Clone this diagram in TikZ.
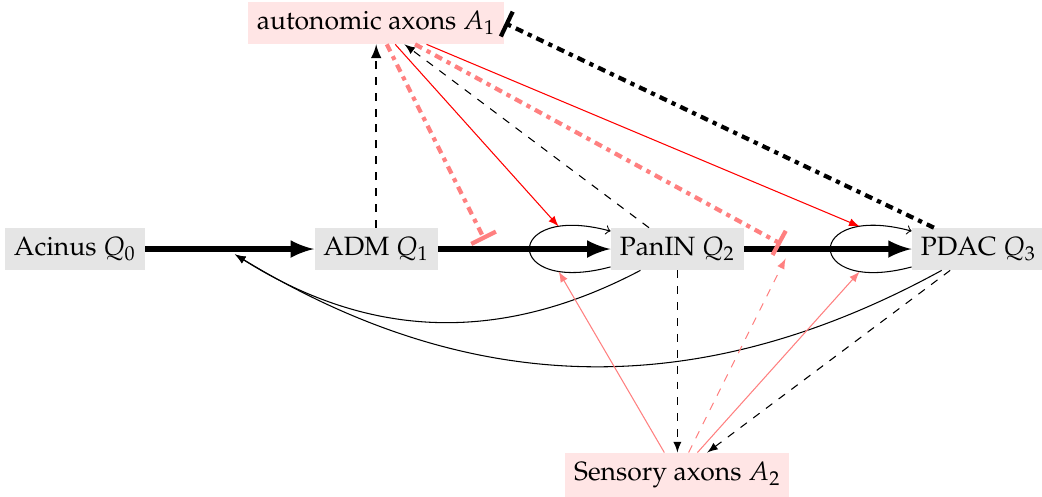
\documentclass[tikz,border=0pt]{standalone}
\usepackage[T1]{fontenc}
\usepackage{mathpazo}
\usepackage{tikz}
\usetikzlibrary{arrows}

\tikzset{
  stage/.style={fill=gray!20},
  axon/.style={fill=red!10},
  move/.style={-latex, line width=2pt},
}

\begin{document}
\begin{tikzpicture}
  \useasboundingbox (-0.996,-3.293) rectangle (12.842,3.307);
  % stages
  \node[stage] (q0) at (0,0) {Acinus $Q_0$};
  \node[stage] (q1) at (4,0) {ADM $Q_1$};
  \node[stage] (q2) at (8,0) {PanIN $Q_2$};
  \node[stage] (q3) at (12,0) {PDAC $Q_3$};
  % axons
  \node[axon] (a1) at (4,3) {autonomic axons $A_1$};
  \node[axon] (a2) at (8,-3) {Sensory axons $A_2$};
  % points on the transitions
  \node (m01) at (2,0) {};
  \node (m12) at (5.5,0) {};
  \node (m23) at (9.5,0) {};

  % transitions
  \draw[move] (q0) -- (q1);
  \draw[move] (q1) -- (q2);
  \draw[move] (q2) -- (q3);

  % loops
  \draw[->] (q2) to[loop left] node[coordinate,pos=0.2] (l2b) {}
    node[coordinate,pos=0.8] (l2t) {} (q2);
  \draw[->] (q3) to[loop left] node[coordinate,pos=0.2] (l3b) {}
    node[coordinate,pos=0.8] (l3t) {} (q3);

  % back to the first transition
  \draw[-latex] (q2) to[bend left] (m01);
  \draw[-latex] (q3) to[bend left] (m01);

  % towards A_1
  \draw[-latex, thick, dashed] (q1) -- (a1);
  \draw[-latex, dashed] (q2) -- (a1);
  \draw[-|, ultra thick, dash dot] (q3) -- (a1.east);
  % from A_1
  \draw[-|, ultra thick, dash dot, red!50] (a1) -- (m12);
  \draw[-|, ultra thick, dash dot, red!50] (a1) -- (m23);
  \draw[-latex, red] (a1) -- (l2t);
  \draw[-latex, red] (a1) -- (l3t);

  % towards A_2
  \draw[-latex, dashed] (q2) -- (a2);
  \draw[-latex, dashed] (q3) -- (a2);
  % from A_2
  \draw[-latex, red!50] (a2) -- (l2b);
  \draw[-latex, red!50] (a2) -- (l3b);
  \draw[-latex, dashed, red!50] (a2) -- (m23);
\end{tikzpicture}
\end{document}
